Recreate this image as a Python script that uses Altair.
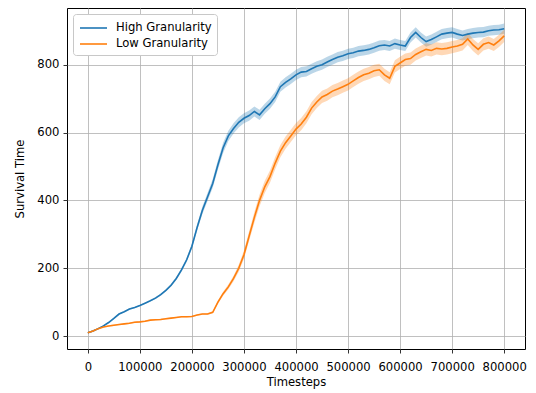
import altair as alt
import pandas as pd

timesteps = list(range(0, 800001, 10000))

high_mean = [10, 15, 22, 30, 40, 52, 65, 72, 80, 84,
             90, 97, 104, 112, 122, 135, 150, 170, 195, 225,
             265, 320, 370, 410, 450, 505, 555, 590, 612, 630,
             642, 650, 662, 652, 670, 685, 705, 735, 748, 758,
             770, 778, 780, 788, 795, 800, 808, 815, 822, 826,
             832, 835, 840, 842, 845, 850, 856, 858, 855, 862,
             858, 855, 880, 895, 880, 868, 874, 882, 890, 893,
             895, 890, 886, 890, 893, 895, 896, 900, 902, 903,
             906]
high_std = [2, 2, 2, 2, 2, 2, 2, 2, 2, 2,
            2, 2, 2, 3, 3, 3, 4, 4, 5, 6,
            7, 9, 11, 12, 13, 14, 15, 15, 15, 15,
            15, 15, 15, 15, 15, 15, 15, 15, 15, 15,
            15, 15, 15, 15, 15, 15, 15, 15, 15, 15,
            15, 15, 15, 15, 15, 15, 15, 15, 15, 15,
            15, 15, 15, 15, 15, 15, 15, 15, 15, 15,
            15, 15, 15, 15, 15, 15, 15, 15, 15, 15,
            15]

low_mean = [10, 15, 22, 27, 30, 32, 34, 36, 38, 41,
            42, 44, 47, 48, 49, 51, 53, 55, 57, 57,
            58, 62, 65, 65, 70, 100, 125, 145, 170, 200,
            240, 295, 350, 400, 440, 470, 510, 545, 570, 590,
            610, 625, 645, 672, 690, 705, 712, 722, 728, 735,
            742, 752, 762, 770, 775, 782, 785, 770, 760, 795,
            805, 815, 818, 830, 838, 845, 842, 848, 846, 848,
            852, 855, 860, 876, 858, 845, 860, 865, 858, 870,
            885]
low_std = [2, 2, 2, 2, 2, 2, 2, 2, 2, 2,
           2, 2, 2, 2, 2, 2, 2, 2, 2, 2,
           2, 2, 2, 2, 3, 5, 6, 7, 8, 10,
           12, 14, 16, 17, 18, 18, 18, 18, 18, 18,
           18, 18, 18, 18, 18, 18, 18, 18, 18, 18,
           18, 18, 18, 18, 18, 18, 18, 18, 18, 18,
           18, 18, 18, 18, 18, 18, 18, 18, 18, 18,
           18, 18, 18, 18, 18, 18, 18, 18, 18, 18,
           18]

series_names = ["High Granularity", "Low Granularity"]
colors = ["#1f77b4", "#ff7f0e"]
x_ticks = [0, 100000, 200000, 300000, 400000, 500000, 600000, 700000, 800000]
y_ticks = [0, 200, 400, 600, 800]

rows = []
for name, means, stds in [(series_names[0], high_mean, high_std),
                          (series_names[1], low_mean, low_std)]:
    for t, m, s in zip(timesteps, means, stds):
        rows.append({"t": t, "series": name, "mean": m, "lo": m - s, "hi": m + s})
df = pd.DataFrame(rows)

FONT = "DejaVu Sans"
xscale = alt.Scale(domain=[-40000, 840000], nice=False, zero=False)
yscale = alt.Scale(domain=[-38, 967], nice=False, zero=False)
cscale = alt.Scale(domain=series_names, range=colors)

xaxis = alt.Axis(values=x_ticks, format="d", title="Timesteps", grid=True,
                 labelPadding=8, titlePadding=4)
yaxis = alt.Axis(values=y_ticks, format="d", title="Survival Time", grid=True,
                 labelPadding=4, titlePadding=11)

legend = alt.Legend(
    title=None,
    orient="none",
    legendX=6,
    legendY=6,
    symbolType="M-0.875,0L2.5,0",
    symbolSize=256,
    symbolStrokeWidth=1.6,
    symbolOpacity=1,
    symbolFillColor="transparent",
    labelFont=FONT,
    labelFontSize=11.6,
    labelColor="#000000",
    rowPadding=1,
    padding=5,
    strokeColor="#c8c8c8",
    fillColor="#ffffff",
    cornerRadius=3,
    labelOffset=20,
)

base = alt.Chart(df)

band = base.mark_area(opacity=0.3).encode(
    x=alt.X("t:Q", scale=xscale, axis=xaxis),
    y=alt.Y("lo:Q", scale=yscale, axis=yaxis),
    y2="hi:Q",
    color=alt.Color("series:N", scale=cscale, legend=legend),
)

line = base.mark_line(strokeWidth=1.6).encode(
    x=alt.X("t:Q", scale=xscale),
    y=alt.Y("mean:Q", scale=yscale),
    color=alt.Color("series:N", scale=cscale, legend=legend),
)

chart = (
    alt.layer(band, line)
    .properties(
        width=458,
        height=341,
        autosize=alt.AutoSizeParams(type="none"),
        padding={"left": 67, "top": 8, "right": 11, "bottom": 44},
    )
    .configure_view(stroke="#000000", strokeWidth=1)
    .configure_axis(
        domain=False,
        gridColor="#b0b0b0",
        gridWidth=0.8,
        tickColor="#000000",
        tickSize=4,
        tickWidth=0.8,
        labelFont=FONT,
        labelFontSize=11.6,
        labelColor="#000000",
        titleFont=FONT,
        titleFontSize=11.6,
        titleFontWeight="normal",
        titleColor="#000000",
    )
)

chart.save("out.html", embed_options={"renderer": "svg", "actions": False})
